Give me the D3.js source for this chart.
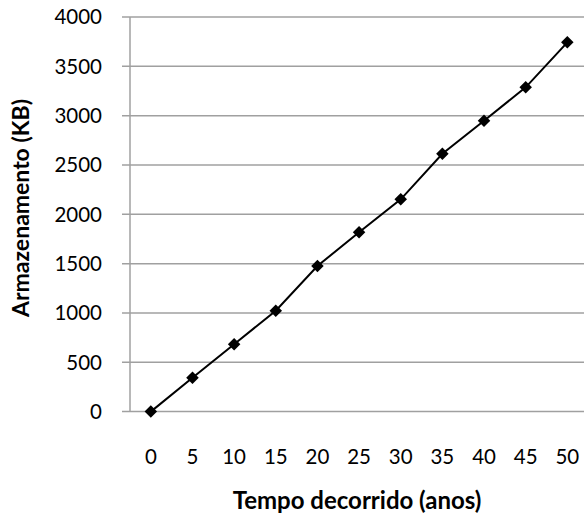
<!DOCTYPE html>
<html><head><meta charset="utf-8">
<script src="https://cdn.jsdelivr.net/npm/d3@7"></script>
<style>body{margin:0;background:#fff}svg{display:block}</style>
</head><body>
<script>
const categories = ["0","5","10","15","20","25","30","35","40","45","50"];
const values = [0, 344, 682, 1023, 1476, 1818, 2152, 2614, 2949, 3287, 3743];
const yTicks = [0,500,1000,1500,2000,2500,3000,3500,4000];

(function(){
const W = 584, H = 516;
const svg = d3.select("body").append("svg").attr("width", W).attr("height", H);
const font = "Lato, 'Open Sans', sans-serif";
const pLeft = 130, pTop = 17, pBottom = 411.6;
const x = d3.scaleBand().domain(categories).range([pLeft, pLeft + 41.65*11]);
const y = d3.scaleLinear().domain([0,4000]).range([pBottom, pTop]);

svg.append("g").selectAll("line").data(yTicks).join("line")
  .attr("x1", pLeft-8).attr("x2", W).attr("y1", d=>y(d)).attr("y2", d=>y(d))
  .attr("stroke", "#a0a0a0").attr("stroke-width", 1.5);
svg.append("line").attr("x1", pLeft).attr("x2", pLeft).attr("y1", pTop).attr("y2", pBottom)
  .attr("stroke", "#a0a0a0").attr("stroke-width", 1.5);

svg.append("g").selectAll("text").data(yTicks).join("text")
  .attr("x", 102).attr("y", d=>y(d)).attr("dy","0.36em").attr("text-anchor","end")
  .attr("font-family", font).attr("font-size", 20.5).attr("fill","#000").text(d=>d);

svg.append("g").selectAll("text").data(categories).join("text")
  .attr("x", d=>x(d)+x.bandwidth()/2).attr("y", 457).attr("dy","0.36em").attr("text-anchor","middle")
  .attr("font-family", font).attr("font-size", 20.5).attr("fill","#000").text(d=>d);

const line = d3.line().x((d,i)=>x(categories[i])+x.bandwidth()/2).y(d=>y(d));
svg.append("path").datum(values).attr("d", line).attr("fill","none").attr("stroke","#000").attr("stroke-width",2);

svg.append("g").selectAll("path").data(values).join("path")
  .attr("d", d3.symbol(d3.symbolDiamond2, 100)()).attr("fill","#000")
  .attr("transform",(d,i)=>`translate(${x(categories[i])+x.bandwidth()/2},${y(d)})`);

svg.append("text").attr("x", 357).attr("y", 500).attr("dy","0.36em").attr("text-anchor","middle")
  .attr("font-family", font).attr("font-size", 24).attr("font-weight","bold").text("Tempo decorrido (anos)");
svg.append("text").attr("transform","translate(21,208) rotate(-90)").attr("dy","0.36em").attr("text-anchor","middle")
  .attr("font-family", font).attr("font-size", 23).attr("font-weight","bold").text("Armazenamento (KB)");
})();
</script>
</body></html>
